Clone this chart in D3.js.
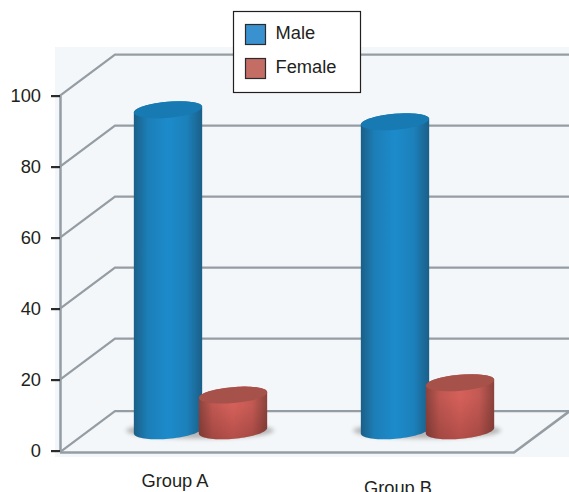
<!DOCTYPE html>
<html>
<head>
<meta charset="utf-8">
<script src="https://cdn.jsdelivr.net/npm/d3@7"></script>
<style>
html,body{margin:0;padding:0;background:#fff;overflow:hidden}
text{font-family:"Liberation Sans",Arial,sans-serif;fill:#231f20}
</style>
</head>
<body>
<svg id="chart" width="569" height="492"></svg>
<script>
const groups = ["Group A", "Group B"];
const seriesNames = ["Male", "Female"];
const maleValues = [90.4, 87];
const femaleValues = [10, 13.5];
const yTicks = [0, 20, 40, 60, 80, 100];

const seriesValues = [maleValues, femaleValues];
const swatchColors = ["#3a91cf", "#c36d65"];
const cylinderShades = [
  {edge: "#1b5f88", mid: "#1c8bcb", top: "#177ab2", lower: 0},
  {edge: "#8a423c", mid: "#d6605a", top: "#a6514a", lower: 0.28}
];
const groupLabelPos = [{x: 175, y: 487}, {x: 398, y: 494}];

const svg = d3.select("#chart");
const defs = svg.append("defs");

// Depth of the floor and walls of the 3D box
const depthX = 55, depthY = -41;
const y = d3.scaleLinear().domain([0, 100]).range([450.6, 95.6]);
const xGroup = d3.scaleBand().domain(groups).range([87, 541]);
const xSeries = d3.scalePoint().domain(seriesNames).range([-32.5, 32.5]);

// Panel behind the chart
svg.append("rect").attr("x", 55).attr("y", 47).attr("width", 514).attr("height", 410).attr("fill", "#f4f7f9");

// Wall grid lines with their diagonal run to the axis
const gridColor = "#959da4";
const grid = svg.append("g").attr("fill", "none").attr("stroke", gridColor).attr("stroke-width", 2.2);
grid.selectAll("path").data(yTicks).join("path")
  .attr("d", d => {
    const y0 = y(d) + (d === 0 ? 1.5 : 0);
    return `M60,${y0}L${60 + depthX},${y0 + depthY}L569,${y0 + depthY}`;
  });

// Front and right edges of the floor
svg.append("path")
  .attr("d", `M60,${y(0) + 2}L514,${y(0) + 2}L569,${y(0) + 2 + depthY}`)
  .attr("fill", "none").attr("stroke", gridColor).attr("stroke-width", 2.5);

// Y axis
const axis = svg.append("g").attr("transform", "translate(60,0)")
  .call(d3.axisLeft(y).tickValues(yTicks).tickSize(9).tickSizeOuter(0).tickPadding(10));
axis.select(".domain").attr("stroke", gridColor).attr("stroke-width", 2.5);
axis.selectAll(".tick line").attr("stroke", "#2b2b2b").attr("stroke-width", 2.2);
axis.selectAll(".tick text").attr("font-size", 18.3).attr("font-family", '"Liberation Sans",Arial,sans-serif').attr("fill", "#231f20");

// Soft shadow under each cylinder
defs.append("filter").attr("id", "shadowBlur")
  .attr("x", "-20%").attr("y", "-50%").attr("width", "140%").attr("height", "200%")
  .append("feGaussianBlur").attr("stdDeviation", 2.2);

cylinderShades.forEach((c, i) => {
  const g = defs.append("linearGradient").attr("id", "side" + i);
  [[0, c.edge], [0.2, d3.interpolateRgb(c.edge, c.mid)(0.7)], [0.5, c.mid], [0.78, d3.interpolateRgb(c.edge, c.mid)(0.75)], [1, c.edge]]
    .forEach(([o, col]) => g.append("stop").attr("offset", o).attr("stop-color", col));
  // Darkening towards the foot of the cylinder
  const v = defs.append("linearGradient").attr("id", "foot" + i).attr("x1", 0).attr("x2", 0).attr("y1", 0).attr("y2", 1);
  v.append("stop").attr("offset", 0.35).attr("stop-color", "#5a1f1b").attr("stop-opacity", 0);
  v.append("stop").attr("offset", 1).attr("stop-color", "#5a1f1b").attr("stop-opacity", c.lower);
});

// Cylinders are drawn from the values, standing at mid depth on the floor
const rx = 34.3, ryTop = 8, ryBase = 8.2, tilt = -5;
const baseY = y(0) + depthY / 2 + 0.5;
const heightPerUnit = y(0) - y(1);
const cylinders = [];
groups.forEach((g, gi) => seriesNames.forEach((s, si) => {
  cylinders.push({g, s, si, v: seriesValues[si][gi]});
}));

svg.append("g").selectAll("ellipse").data(groups).join("ellipse")
  .attr("cx", d => xGroup(d) + xGroup.bandwidth() / 2 - 0.5)
  .attr("cy", baseY)
  .attr("rx", 74).attr("ry", 8)
  .attr("fill", "#8a8a8a").attr("opacity", 0.6)
  .attr("filter", "url(#shadowBlur)");

const bars = svg.append("g").selectAll("g").data(cylinders).join("g")
  .attr("transform", d => `translate(${xGroup(d.g) + xGroup.bandwidth() / 2 + xSeries(d.s)},0)`);

const cosT = Math.cos(tilt * Math.PI / 180), sinT = Math.sin(tilt * Math.PI / 180);
function halfEllipse(cy, ry, a0, a1) {
  return d3.range(0, 41).map(i => {
    const t = a0 + (a1 - a0) * i / 40;
    const ex = rx * Math.cos(t), ey = ry * Math.sin(t);
    return [ex * cosT - ey * sinT, cy + ex * sinT + ey * cosT];
  });
}
const outline = d3.line();
function sidePath(d) {
  const top = baseY - d.v * heightPerUnit;
  // left to right along the front of the base, then back over the top ellipse
  const pts = halfEllipse(baseY, ryBase, Math.PI, 0).concat(halfEllipse(top, ryTop, 0, -Math.PI));
  return outline(pts) + "Z";
}
bars.append("path").attr("fill", d => `url(#side${d.si})`).attr("d", sidePath);
bars.append("path").attr("fill", d => `url(#foot${d.si})`).attr("d", sidePath);
bars.append("ellipse")
  .attr("rx", rx).attr("ry", ryTop)
  .attr("transform", d => `translate(0,${baseY - d.v * heightPerUnit}) rotate(${tilt})`)
  .attr("fill", d => cylinderShades[d.si].top);

// Category labels
svg.append("g").selectAll("text").data(groups).join("text")
  .attr("x", (d, i) => groupLabelPos[i].x)
  .attr("y", (d, i) => groupLabelPos[i].y)
  .attr("text-anchor", "middle").attr("font-size", 18.3)
  .text(d => d);

// Legend
const legend = svg.append("g");
legend.append("rect").attr("x", 233.5).attr("y", 11.5).attr("width", 127).attr("height", 81)
  .attr("fill", "#fff").attr("stroke", "#231f20").attr("stroke-width", 1.2);
const items = legend.selectAll("g").data(seriesNames).join("g")
  .attr("transform", (d, i) => `translate(245.5,${24.5 + i * 34})`);
items.append("rect").attr("width", 20).attr("height", 20)
  .attr("fill", (d, i) => swatchColors[i]).attr("stroke", "#2b2b2b").attr("stroke-width", 1.2);
items.append("text").attr("x", 30).attr("y", 14).attr("font-size", 18.3).text(d => d);
</script>
</body>
</html>
